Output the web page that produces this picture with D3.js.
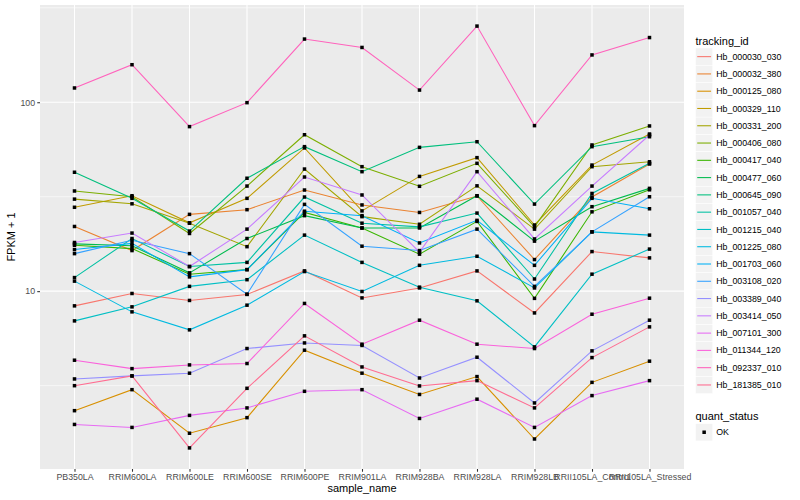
<!DOCTYPE html>
<html>
<head>
<meta charset="utf-8">
<script src="https://cdn.jsdelivr.net/npm/d3@7"></script>
<style>
  body { margin: 0; background: #fff; }
  text { font-family: "Liberation Sans", Arial, sans-serif; }
</style>
</head>
<body>
<svg id="chart" width="800" height="500"></svg>
<script>
const samples = ['PB350LA', 'RRIM600LA', 'RRIM600LE', 'RRIM600SE', 'RRIM600PE', 'RRIM901LA',
  'RRIM928BA', 'RRIM928LA', 'RRIM928LB', 'RRII105LA_Control', 'RRII105LA_Stressed'];

const trackingIds = ['Hb_000030_030', 'Hb_000032_380', 'Hb_000125_080', 'Hb_000329_110', 'Hb_000331_200',
  'Hb_000406_080', 'Hb_000417_040', 'Hb_000477_060', 'Hb_000645_090', 'Hb_001057_040',
  'Hb_001215_040', 'Hb_001225_080', 'Hb_001703_060', 'Hb_003108_020', 'Hb_003389_040',
  'Hb_003414_050', 'Hb_007101_300', 'Hb_011344_120', 'Hb_092337_010', 'Hb_181385_010'];

const trackColors = ['#F8766D', '#EA8331', '#D89000', '#C09B00', '#A3A500', '#7CAE00', '#39B600',
  '#00BB4E', '#00BF7D', '#00C1A3', '#00BFC4', '#00BAE0', '#00B0F6', '#35A2FF', '#9590FF',
  '#C77CFF', '#E76BF3', '#FA62DB', '#FF62BC', '#FF6C91'];

// FPKM + 1, one array per tracking_id, in sample order
const hb_000030_030 = [8.36, 9.72, 8.93, 9.61, 12.8, 9.21, 10.4, 12.8, 7.67, 16.2, 15.0];
const hb_000032_380 = [22.0, 16.4, 25.5, 27.0, 34.3, 28.6, 26.1, 31.9, 14.7, 31.5, 47.1];
const hb_000125_080 = [2.33, 3.01, 1.77, 2.14, 4.87, 3.68, 2.84, 3.53, 1.65, 3.29, 4.26];
const hb_000329_110 = [27.8, 32.0, 23.0, 31.0, 57.3, 26.6, 40.5, 50.9, 22.4, 46.5, 67.9];
const hb_000331_200 = [30.7, 29.0, 22.9, 17.2, 44.3, 24.8, 22.6, 36.1, 21.3, 45.6, 48.4];
const hb_000406_080 = [33.9, 31.6, 20.2, 36.0, 67.3, 45.6, 35.9, 47.5, 21.9, 59.4, 74.9];
const hb_000417_040 = [17.5, 16.8, 12.3, 13.0, 26.1, 21.6, 15.7, 23.4, 9.16, 26.3, 34.4];
const hb_000477_060 = [17.8, 17.4, 12.5, 19.0, 25.1, 21.6, 21.6, 32.0, 18.4, 28.0, 35.0];
const hb_000645_090 = [42.6, 31.0, 20.8, 39.6, 58.2, 42.9, 57.7, 61.8, 28.9, 58.2, 65.7];
const hb_001057_040 = [11.8, 19.0, 13.5, 14.2, 31.5, 22.9, 21.9, 25.9, 11.6, 32.9, 47.5];
const hb_001215_040 = [6.96, 8.26, 10.6, 11.5, 19.8, 14.2, 10.5, 8.89, 5.07, 12.3, 16.7];
const hb_001225_080 = [11.3, 7.77, 6.24, 8.43, 12.7, 9.96, 13.7, 15.3, 10.4, 20.6, 19.8];
const hb_001703_060 = [16.6, 17.9, 11.9, 13.0, 26.5, 25.1, 18.0, 23.7, 13.7, 31.0, 27.3];
const hb_003108_020 = [15.8, 18.6, 15.8, 9.64, 28.8, 17.3, 16.4, 21.3, 10.6, 20.6, 31.6];
const hb_003389_040 = [3.43, 3.56, 3.68, 4.97, 5.32, 5.16, 3.47, 4.47, 2.56, 4.83, 7.02];
const hb_003414_050 = [18.1, 20.3, 13.5, 21.3, 40.2, 32.3, 16.1, 42.9, 18.9, 36.0, 67.1];
const hb_007101_300 = [1.97, 1.90, 2.20, 2.41, 2.95, 3.01, 2.12, 2.68, 1.90, 2.80, 3.36];
const hb_011344_120 = [4.31, 3.89, 4.07, 4.14, 8.61, 5.24, 7.02, 5.24, 4.97, 7.55, 9.18];
const hb_092337_010 = [119, 158, 74.3, 99.5, 216, 195, 116, 253, 75.2, 178, 220];
const hb_181385_010 = [3.16, 3.56, 1.48, 3.06, 5.80, 3.97, 3.15, 3.36, 2.41, 4.45, 6.47];

const seriesValues = [hb_000030_030, hb_000032_380, hb_000125_080, hb_000329_110, hb_000331_200,
  hb_000406_080, hb_000417_040, hb_000477_060, hb_000645_090, hb_001057_040,
  hb_001215_040, hb_001225_080, hb_001703_060, hb_003108_020, hb_003389_040,
  hb_003414_050, hb_007101_300, hb_011344_120, hb_092337_010, hb_181385_010];

const yMajor = [10, 100];
const quantStatus = ['OK'];

const series = trackingIds.map((id, i) => ({
  id,
  color: trackColors[i],
  values: seriesValues[i].map((v, j) => ({ sample: samples[j], v }))
}));

const svg = d3.select('#chart');
const panel = { left: 40, right: 684, top: 5, bottom: 469 };

const x = d3.scalePoint().domain(samples).range([panel.left, panel.right]).padding(0.6);

// ggplot-style 5% expansion in log space
const allVals = seriesValues.flat();
const [lo, hi] = d3.extent(allVals, v => Math.log10(v));
const pad = (hi - lo) * 0.05;
const y = d3.scaleLog().domain([10 ** (lo - pad), 10 ** (hi + pad)]).range([panel.bottom, panel.top]);

svg.append('rect')
  .attr('x', panel.left).attr('y', panel.top)
  .attr('width', panel.right - panel.left).attr('height', panel.bottom - panel.top)
  .attr('fill', '#EBEBEB');

const grid = svg.append('g');
const yMinor = [10 ** 0.5, 10 ** 1.5, 10 ** 2.5].filter(v => y(v) >= panel.top && y(v) <= panel.bottom);
grid.selectAll('.minor').data(yMinor).join('line')
  .attr('x1', panel.left).attr('x2', panel.right)
  .attr('y1', d => y(d)).attr('y2', d => y(d))
  .attr('stroke', '#fff').attr('stroke-width', 0.55);
grid.selectAll('.majory').data(yMajor).join('line')
  .attr('x1', panel.left).attr('x2', panel.right)
  .attr('y1', d => y(d)).attr('y2', d => y(d))
  .attr('stroke', '#fff').attr('stroke-width', 1.07);
grid.selectAll('.majorx').data(samples).join('line')
  .attr('x1', d => x(d)).attr('x2', d => x(d))
  .attr('y1', panel.top).attr('y2', panel.bottom)
  .attr('stroke', '#fff').attr('stroke-width', 1.07);

const line = d3.line().x(d => x(d.sample)).y(d => y(d.v));

svg.append('g').selectAll('path').data(series).join('path')
  .attr('d', d => line(d.values))
  .attr('fill', 'none')
  .attr('stroke', d => d.color)
  .attr('stroke-width', 1.07);

const ps = 3.5;
svg.append('g').selectAll('rect').data(series.flatMap(s => s.values)).join('rect')
  .attr('x', d => x(d.sample) - ps / 2)
  .attr('y', d => y(d.v) - ps / 2)
  .attr('width', ps).attr('height', ps)
  .attr('fill', '#000');

// axes
const xAxis = d3.axisBottom(x).tickSize(2.75).tickPadding(2.5);
const yAxis = d3.axisLeft(y).tickValues(yMajor).tickFormat(d3.format('d')).tickSize(2.75).tickPadding(2.2);

const gx = svg.append('g').attr('transform', `translate(0,${panel.bottom})`).call(xAxis);
const gy = svg.append('g').attr('transform', `translate(${panel.left},0)`).call(yAxis);
[gx, gy].forEach(g => {
  g.select('.domain').remove();
  g.selectAll('.tick line').attr('stroke', '#333').attr('stroke-width', 1.07);
  g.selectAll('.tick text').attr('fill', '#4D4D4D').style('font-size', '8.8px');
});

svg.append('text')
  .attr('x', (panel.left + panel.right) / 2).attr('y', 492)
  .attr('text-anchor', 'middle').style('font-size', '11px').attr('fill', '#000')
  .text('sample_name');

svg.append('text')
  .attr('transform', `translate(15,${(panel.top + panel.bottom) / 2}) rotate(-90)`)
  .attr('text-anchor', 'middle').style('font-size', '11px').attr('fill', '#000')
  .text('FPKM + 1');

// legends
const keySize = 17.28;
const legX = 695.5;
const leg = svg.append('g');

leg.append('text').attr('x', legX).attr('y', 44.5)
  .style('font-size', '11px').attr('fill', '#000').text('tracking_id');

const keys = leg.selectAll('.key').data(series).join('g')
  .attr('transform', (d, i) => `translate(${legX},${48 + i * keySize})`);
keys.append('rect').attr('width', keySize).attr('height', keySize)
  .attr('fill', '#F2F2F2').attr('stroke', '#fff').attr('stroke-width', 0.5);
keys.append('line')
  .attr('x1', keySize * 0.1).attr('x2', keySize * 0.9)
  .attr('y1', keySize / 2).attr('y2', keySize / 2)
  .attr('stroke', d => d.color).attr('stroke-width', 1.07);
keys.append('text').attr('x', keySize + 3.5).attr('y', keySize / 2).attr('dy', '0.35em')
  .style('font-size', '8.8px').attr('fill', '#000').text(d => d.id);

const qTop = 48 + trackingIds.length * keySize + 30;
leg.append('text').attr('x', legX).attr('y', qTop - 3.5)
  .style('font-size', '11px').attr('fill', '#000').text('quant_status');
const qKeys = leg.selectAll('.qkey').data(quantStatus).join('g')
  .attr('transform', (d, i) => `translate(${legX},${qTop + i * keySize})`);
qKeys.append('rect').attr('width', keySize).attr('height', keySize)
  .attr('fill', '#F2F2F2').attr('stroke', '#fff').attr('stroke-width', 0.5);
qKeys.append('rect').attr('x', keySize / 2 - ps / 2).attr('y', keySize / 2 - ps / 2)
  .attr('width', ps).attr('height', ps).attr('fill', '#000');
qKeys.append('text').attr('x', keySize + 3.5).attr('y', keySize / 2).attr('dy', '0.35em')
  .style('font-size', '8.8px').attr('fill', '#000').text(d => d);
</script>
</body>
</html>
